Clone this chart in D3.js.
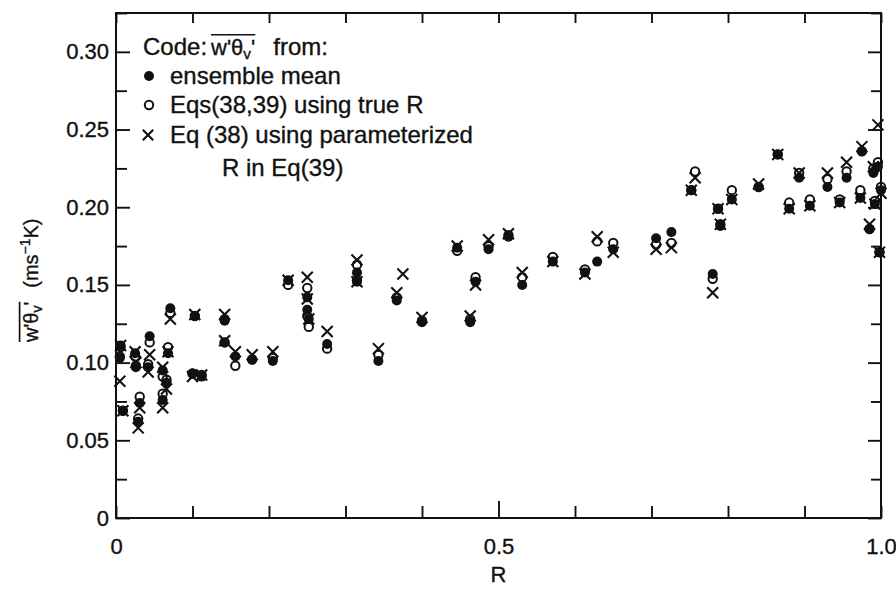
<!DOCTYPE html>
<html>
<head>
<meta charset="utf-8">
<script src="https://cdn.jsdelivr.net/npm/d3@7/dist/d3.min.js"></script>
<style>
  html, body { margin: 0; padding: 0; background: #fff; }
  svg { display: block; }
  text { font-family: "Liberation Sans", Arial, sans-serif; fill: #111; }
  .lettering { stroke: #111; stroke-width: 0.35px; }
</style>
</head>
<body>
<svg id="chart" width="896" height="589"></svg>
<script>
// Ratio R of each case
const caseR = [0.006, 0.005, 0.009, 0.025, 0.026, 0.029, 0.031, 0.044, 0.042, 0.061,
  0.066, 0.061, 0.068, 0.071, 0.103, 0.100, 0.112, 0.142, 0.142, 0.156,
  0.178, 0.205, 0.225, 0.250, 0.250, 0.252, 0.276, 0.315, 0.315, 0.343,
  0.367, 0.375, 0.400, 0.446, 0.463, 0.470, 0.487, 0.513, 0.531, 0.571,
  0.613, 0.629, 0.650, 0.706, 0.726, 0.757, 0.752, 0.780, 0.787, 0.790,
  0.805, 0.840, 0.865, 0.880, 0.893, 0.907, 0.930, 0.946, 0.955, 0.975,
  0.973, 0.985, 0.990, 0.992, 0.996, 0.998, 1.000];

// Buoyancy flux from the ensemble mean (null where hidden under other symbols)
const ensembleMean = [0.111, 0.103, 0.069, 0.106, 0.097, 0.062, 0.074, 0.117, 0.097, 0.095,
  0.087, 0.076, 0.106, 0.135, 0.130, 0.093, 0.091, 0.127, 0.113, 0.104,
  0.102, 0.101, 0.153, 0.142, 0.134, 0.128, 0.112, 0.158, 0.152, 0.101,
  0.140, null, 0.126, 0.174, 0.126, 0.152, 0.173, 0.181, 0.150, 0.165,
  0.158, 0.165, 0.173, 0.180, 0.184, null, 0.211, 0.157, 0.199, 0.188,
  0.205, 0.213, 0.234, 0.199, 0.219, 0.201, 0.213, 0.203, 0.219, 0.236,
  0.206, 0.186, 0.222, 0.202, 0.226, 0.171, 0.211];

// Eqs (38,39) using the true R
const trueR = [0.110, 0.104, 0.069, 0.104, 0.098, 0.064, 0.078, 0.113, 0.099, 0.091,
  0.089, 0.080, 0.110, 0.132, 0.130, 0.093, 0.092, 0.128, 0.113, 0.098,
  0.102, 0.103, 0.150, 0.148, 0.130, 0.123, 0.109, 0.163, 0.153, 0.105,
  0.142, null, 0.127, 0.172, 0.128, 0.155, 0.175, 0.182, 0.155, 0.168,
  0.160, 0.178, 0.177, 0.176, 0.177, 0.223, 0.211, 0.154, 0.199, 0.189,
  0.211, 0.213, 0.234, 0.203, 0.222, 0.205, 0.218, 0.205, 0.223, 0.236,
  0.211, 0.186, 0.225, 0.204, 0.229, 0.171, 0.213];

// Eq (38) using the parameterized R in Eq (39)
const paramR = [0.111, 0.088, 0.069, 0.107, 0.100, 0.058, 0.071, 0.105, 0.094, 0.097,
  0.083, 0.071, 0.107, 0.128, 0.131, 0.091, 0.092, 0.131, 0.114, 0.107,
  0.105, 0.107, 0.153, 0.155, 0.141, 0.128, 0.120, 0.166, 0.152, 0.109,
  0.145, 0.157, 0.129, 0.175, 0.130, 0.150, 0.179, 0.183, 0.158, 0.165,
  0.157, 0.181, 0.171, 0.173, 0.174, 0.219, 0.211, 0.145, 0.199, 0.189,
  0.205, 0.215, 0.234, 0.199, 0.222, 0.201, 0.222, 0.203, 0.229, 0.239,
  0.206, 0.189, 0.226, 0.202, 0.253, 0.171, 0.209];

const xTickLabels = ["0", "0.5", "1.0"];
const yTickLabels = ["0", "0.05", "0.10", "0.15", "0.20", "0.25", "0.30"];

const svg = d3.select("#chart");
const ink = "#111";

const x = d3.scaleLinear().domain([0, 1]).range([116, 881]);
const y = d3.scaleLinear().domain([0, 0.325]).range([518, 13]);

const xTicks = d3.range(0, 11).map(i => i / 10);
const yTicks = d3.range(0, 14).map(i => i * 0.025);
const isMajorY = v => Math.abs(Math.round(v / 0.05) * 0.05 - v) < 1e-9;
const fmtY = v => {
  const i = Math.round(v / 0.05);
  return (isMajorY(v) && i < yTickLabels.length) ? yTickLabels[i] : "";
};
const fmtX = v => {
  if (Math.abs(v) < 1e-9) return xTickLabels[0];
  if (Math.abs(v - 0.5) < 1e-9) return xTickLabels[1];
  if (Math.abs(v - 1) < 1e-9) return xTickLabels[2];
  return "";
};

function styleAxis(g) {
  g.select(".domain").remove();
  g.selectAll("line").attr("stroke", ink).attr("stroke-width", 1.9);
  g.selectAll("text").attr("font-family", "Liberation Sans, Arial, sans-serif")
    .attr("font-size", 22).attr("fill", ink).attr("class", "lettering");
}

// Bottom axis (ticks pointing inward)
svg.append("g").attr("transform", `translate(0,${y(0)})`)
  .call(d3.axisBottom(x).tickValues(xTicks).tickFormat(fmtX).tickSizeInner(-12).tickSizeOuter(0).tickPadding(20))
  .call(styleAxis)
  .call(g => g.selectAll(".tick").filter(d => Math.abs(d - 0.5) < 1e-9).select("line").attr("y2", -17));

// Top axis
svg.append("g").attr("transform", `translate(0,${y(0.325)})`)
  .call(d3.axisTop(x).tickValues(xTicks).tickFormat("").tickSizeInner(-10).tickSizeOuter(0))
  .call(styleAxis);

// Left axis
svg.append("g").attr("transform", `translate(${x(0)},0)`)
  .call(d3.axisLeft(y).tickValues(yTicks).tickFormat(fmtY).tickSizeInner(-14).tickSizeOuter(0).tickPadding(7))
  .call(styleAxis)
  .call(g => g.selectAll(".tick").filter(d => !isMajorY(d)).select("line").attr("x2", 11));

// Right axis
svg.append("g").attr("transform", `translate(${x(1)},0)`)
  .call(d3.axisRight(y).tickValues(yTicks).tickFormat("").tickSizeInner(-13).tickSizeOuter(0))
  .call(styleAxis)
  .call(g => g.selectAll(".tick").filter(d => !isMajorY(d)).select("line").attr("x2", -10));

// Frame
svg.append("rect")
  .attr("x", x(0)).attr("y", y(0.325))
  .attr("width", x(1) - x(0)).attr("height", y(0) - y(0.325))
  .attr("fill", "none").attr("stroke", ink).attr("stroke-width", 2);

// Data points
const pts = (vals) => caseR.map((r, i) => ({ r, v: vals[i] })).filter(d => d.v !== null);
const plot = svg.append("g");

plot.selectAll("circle.ens").data(pts(ensembleMean)).join("circle")
  .attr("class", "ens")
  .attr("cx", d => x(d.r)).attr("cy", d => y(d.v)).attr("r", 5)
  .attr("fill", ink);

plot.selectAll("circle.tru").data(pts(trueR)).join("circle")
  .attr("class", "tru")
  .attr("cx", d => x(d.r)).attr("cy", d => y(d.v)).attr("r", 4.2)
  .attr("fill", "none").attr("stroke", ink).attr("stroke-width", 2);

const crossPath = (cx, cy, s) => `M${cx - s},${cy - s}L${cx + s},${cy + s}M${cx - s},${cy + s}L${cx + s},${cy - s}`;
plot.selectAll("path.par").data(pts(paramR)).join("path")
  .attr("class", "par")
  .attr("d", d => crossPath(x(d.r), y(d.v), 5.5))
  .attr("stroke", ink).attr("stroke-width", 2.1).attr("fill", "none");

// Helper: write w'θv' with an overline starting at (x0, baseline)
function fluxSymbol(parent, x0, base, size) {
  const t = parent.append("text").attr("class", "lettering")
    .attr("x", x0).attr("y", base).attr("font-size", size);
  t.append("tspan").text("w'θ");
  t.append("tspan").attr("font-size", size * 0.7).attr("dy", size * 0.18).text("v");
  t.append("tspan").attr("dy", -size * 0.18).text("'");
  const w = t.node().getComputedTextLength();
  parent.append("line")
    .attr("x1", x0).attr("x2", x0 + w)
    .attr("y1", base - size * 0.92).attr("y2", base - size * 0.92)
    .attr("stroke", ink).attr("stroke-width", 1.7);
  return w;
}

// Legend
const leg = svg.append("g");
const legSize = 24;
const legText = (tx, ty, s) => leg.append("text").attr("class", "lettering")
  .attr("x", tx).attr("y", ty).attr("font-size", legSize).text(s);

legText(143, 55, "Code:");
const codeW = 143 + 68;
const fw = fluxSymbol(leg, codeW, 55, 22);
legText(codeW + fw + 18, 55, "from:");

leg.append("circle").attr("cx", 149).attr("cy", 76).attr("r", 5).attr("fill", ink);
legText(170, 84, "ensemble  mean");

leg.append("circle").attr("cx", 149).attr("cy", 105).attr("r", 4.2).attr("fill", "none")
  .attr("stroke", ink).attr("stroke-width", 2);
legText(170, 113, "Eqs(38,39) using true R");

leg.append("path").attr("d", crossPath(148, 135, 5.2)).attr("stroke", ink).attr("stroke-width", 2.1);
legText(170, 143, "Eq (38) using parameterized");
legText(222, 176, "R in Eq(39)");

// Axis titles
svg.append("text").attr("class", "lettering").attr("x", (x(0) + x(1)) / 2).attr("y", 582)
  .attr("text-anchor", "middle").attr("font-size", 22).text("R");

const yl = svg.append("g").attr("transform", "translate(38,342) rotate(-90)");
const yw = fluxSymbol(yl, 0, 0, 20);
const unit = yl.append("text").attr("class", "lettering").attr("x", yw + 14).attr("y", 0).attr("font-size", 20);
unit.append("tspan").text("(ms");
unit.append("tspan").attr("font-size", 14).attr("dy", -8).text("−1");
unit.append("tspan").attr("dy", 8).text("K)");
</script>
</body>
</html>
